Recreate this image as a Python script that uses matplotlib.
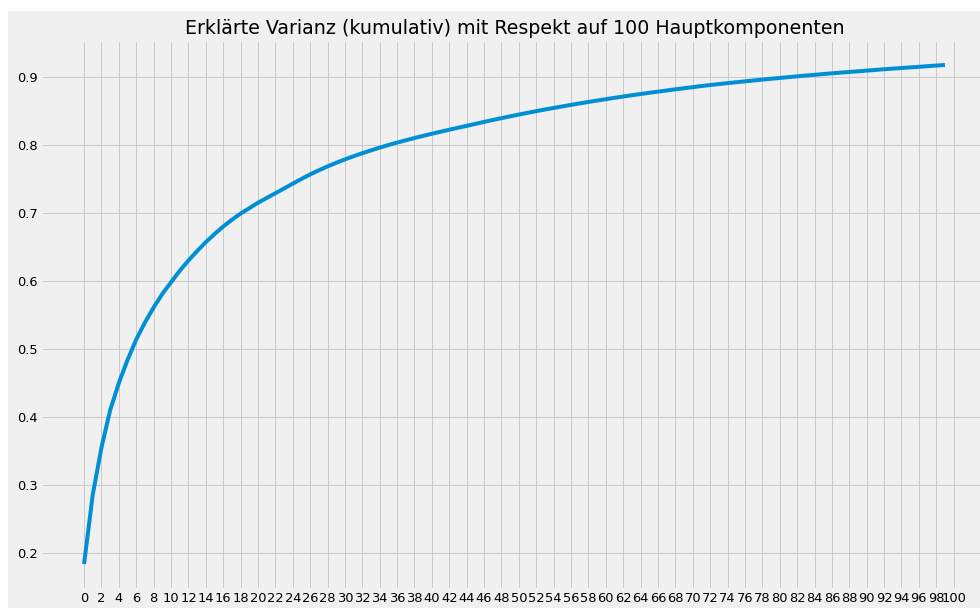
import numpy as np
import matplotlib
matplotlib.use("Agg")
from matplotlib import pyplot as plt
from matplotlib.patches import Rectangle

komponenten = np.arange(100)
varianz_kumulativ = [
    0.1840, 0.2860, 0.3550, 0.4100, 0.4500, 0.4840, 0.5140, 0.5390, 0.5610, 0.5810,
    0.5980, 0.6150, 0.6300, 0.6440, 0.6570, 0.6690, 0.6800, 0.6900, 0.6990, 0.7070,
    0.7150, 0.7220, 0.7290, 0.7360, 0.7430, 0.7500, 0.7566, 0.7627, 0.7684, 0.7737,
    0.7787, 0.7834, 0.7878, 0.7920, 0.7960, 0.7998, 0.8034, 0.8068, 0.8101, 0.8133,
    0.8164, 0.8194, 0.8223, 0.8252, 0.8280, 0.8309, 0.8338, 0.8366, 0.8393, 0.8420,
    0.8446, 0.8471, 0.8496, 0.8520, 0.8543, 0.8566, 0.8588, 0.8610, 0.8631, 0.8652,
    0.8672, 0.8692, 0.8711, 0.8730, 0.8748, 0.8766, 0.8783, 0.8800, 0.8817, 0.8833,
    0.8849, 0.8865, 0.8880, 0.8894, 0.8908, 0.8921, 0.8934, 0.8947, 0.8960, 0.8972,
    0.8984, 0.8996, 0.9008, 0.9019, 0.9030, 0.9041, 0.9052, 0.9062, 0.9072, 0.9082,
    0.9092, 0.9102, 0.9112, 0.9121, 0.9130, 0.9139, 0.9148, 0.9157, 0.9166, 0.9175,
]
x_ticks = list(range(0, 101, 2))
titel = "Erklärte Varianz (kumulativ) mit Respekt auf 100 Hauptkomponenten"

plt.style.use("fivethirtyeight")

fig = plt.figure(figsize=(980 / 72, 608 / 72), dpi=72, facecolor="white")
# grauer Hintergrund mit schmalem weißen Rand oben/links
fig.add_artist(Rectangle((8 / 980, 0), 1, 1 - 11 / 608, transform=fig.transFigure,
                         facecolor="#f0f0f0", edgecolor="none", zorder=-1))

ax = fig.add_axes([41 / 980, 1 - 589 / 608, (988 - 41) / 980, (589 - 40) / 608])
ax.plot(komponenten, varianz_kumulativ)
ax.set_xticks(x_ticks)
ax.tick_params(labelsize=13)
ax.set_title(titel, fontsize=19)

fig.savefig("out.png", dpi=72, facecolor=fig.get_facecolor())
